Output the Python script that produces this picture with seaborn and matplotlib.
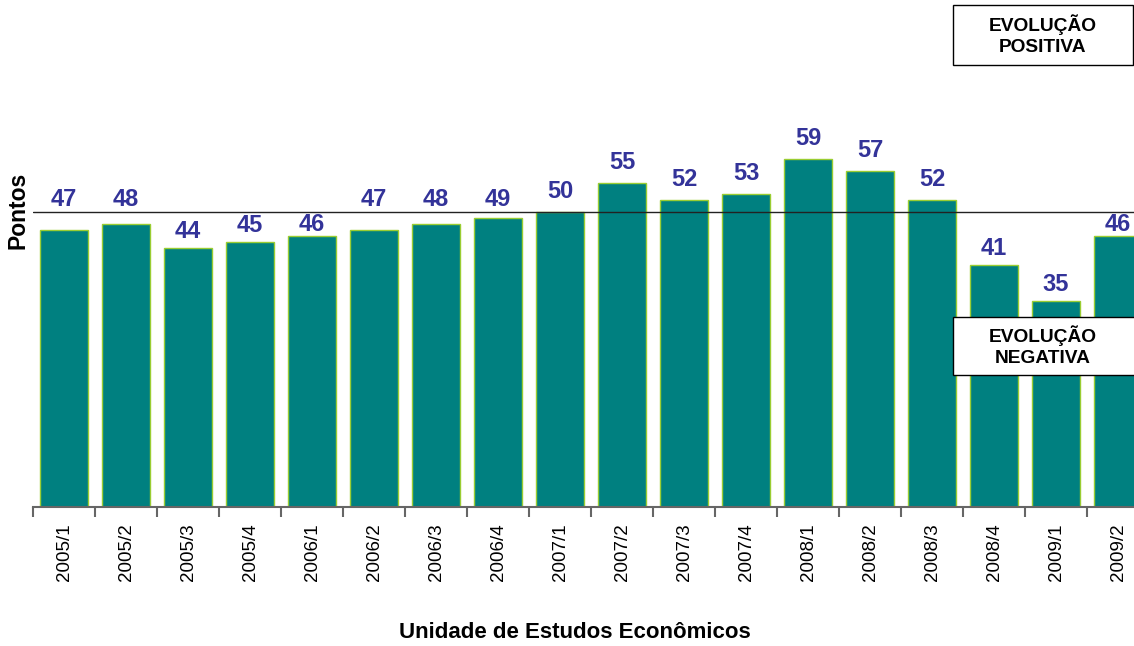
import matplotlib
matplotlib.use("Agg")
import matplotlib.pyplot as plt
from matplotlib.patches import Rectangle
import numpy as np
import seaborn as sns

periods = [
    "2005/1", "2005/2", "2005/3", "2005/4", "2006/1", "2006/2", "2006/3", "2006/4",
    "2007/1", "2007/2", "2007/3", "2007/4", "2008/1", "2008/2", "2008/3", "2008/4",
    "2009/1", "2009/2",
]
pontos = [47, 48, 44, 45, 46, 47, 48, 49, 50, 55, 52, 53, 59, 57, 52, 41, 35, 46]
reference_level = 50

sns.set_style("white")
plt.rcParams["font.family"] = ["Liberation Sans", "DejaVu Sans"]
plt.rcParams["text.color"] = "black"
plt.rcParams["xtick.color"] = "black"

W, H = 1134, 646
fig = plt.figure(figsize=(W / 100, H / 100), dpi=100)
ax = fig.add_axes([33 / W, 139 / H, 1116 / W, 457 / H])

sns.barplot(x=periods, y=pontos, ax=ax, color="#008080", saturation=1,
            width=0.77, edgecolor="#9acd32", linewidth=1.0)

ax.set_xlim(-0.5, len(periods) - 0.5)
ax.set_ylim(0, 77.5)
ax.axhline(reference_level, color="#222222", linewidth=1.0, zorder=3)

# axis styling: only the bottom spine, ticks on category boundaries
for side in ("top", "right", "left"):
    ax.spines[side].set_visible(False)
ax.spines["bottom"].set_color("#666666")
ax.spines["bottom"].set_linewidth(1.5)
ax.set_yticks([])
ax.set_xticks(np.arange(len(periods)))
ax.set_xticklabels(periods, rotation=90, fontsize=13.5)
ax.tick_params(axis="x", which="major", length=0, pad=12, labelcolor="black")
ax.set_xticks(np.arange(len(periods) + 1) - 0.5, minor=True)
ax.tick_params(axis="x", which="minor", bottom=True, length=7, width=1.5, color="#666666")
ax.set_xlabel("")
ax.set_ylabel("")

# value labels (baseline-anchored); keep them clear of the reference line
px_per_unit = 457 / 77.5
digit_h = 17
for i, v in enumerate(pontos):
    if v >= reference_level:
        base, gap = v, 14
    else:
        space = (reference_level - v) * px_per_unit
        if space - digit_h - 2 >= 3:
            base, gap = v, min(10, space - digit_h - 2)
        else:
            base, gap = reference_level, 6
    ax.annotate(str(v), xy=(i, base), xytext=(0, gap * 0.72), textcoords="offset points",
                ha="center", va="baseline", fontsize=17, fontweight="bold", color="#333399")

fig.text(18 / W, 1 - 210 / H, "Pontos", rotation=90, ha="center", va="center",
         fontsize=16.5, fontweight="bold")
fig.text(575 / W, 1 - 633 / H, "Unidade de Estudos Econômicos", ha="center", va="center",
         fontsize=16, fontweight="bold")

# annotation boxes
for (x0, y0, x1, y1), txt in [((953, 5, 1133, 65), "EVOLUÇÃO\nPOSITIVA"),
                              ((953, 317, 1140, 375), "EVOLUÇÃO\nNEGATIVA")]:
    fig.patches.append(Rectangle((x0 / W, 1 - y1 / H), (x1 - x0) / W, (y1 - y0) / H,
                                 transform=fig.transFigure, facecolor="white",
                                 edgecolor="black", linewidth=1.0, zorder=5))
    fig.text(1043 / W, 1 - (y0 + y1) / 2 / H, txt, ha="center", va="center",
             fontsize=13.8, fontweight="bold", linespacing=1.3, zorder=6)

fig.savefig("out.png", dpi=100)
